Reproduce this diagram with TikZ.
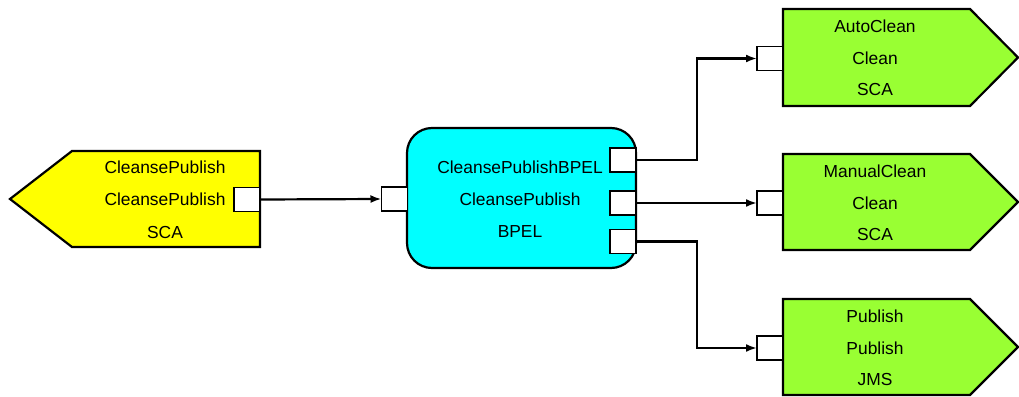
\documentclass[tikz,border=0pt]{standalone}
\usepackage{fontspec}
\setmainfont{Liberation Sans}
\usetikzlibrary{arrows.meta}
\definecolor{ylw}{RGB}{255,255,0}
\definecolor{cyn}{RGB}{0,255,255}
\definecolor{grn}{RGB}{153,255,51}
\begin{document}
\begin{tikzpicture}[x=1pt,y=-1pt,
  shapeline/.style={draw=black,line width=2.2pt,line join=miter},
  port/.style={draw=black,fill=white,line width=1.4pt,minimum width=26pt,minimum height=24pt,inner sep=0pt,outer sep=0pt},
  lbl/.style={font=\fontsize{17.4}{20}\selectfont,inner sep=0pt,anchor=center},
  conn/.style={draw=black,line width=2.2pt,-{Latex[length=11pt,width=8pt]}}
]
\useasboundingbox (0,0) rectangle (1019,396);
% shapes
\path[shapeline,fill=ylw] (72,151)--(260,151)--(260,247)--(72,247)--(10,199)--cycle;
\path[shapeline,fill=cyn,rounded corners=25pt] (407,128) rectangle (636,268);
\path[shapeline,fill=grn] (783,9)--(970,9)--(1018,57.5)--(970,106)--(783,106)--cycle;
\path[shapeline,fill=grn] (783,154)--(970,154)--(1018,202)--(970,250)--(783,250)--cycle;
\path[shapeline,fill=grn] (783,299)--(970,299)--(1018,347)--(970,395)--(783,395)--cycle;
% texts
\node[lbl] (y1) at (165,167) {CleansePublish};
\node[lbl] (y2) at (165,199) {CleansePublish};
\node[lbl] (y3) at (165,233) {SCA};
\node[lbl] (c1) at (520,167) {CleansePublishBPEL};
\node[lbl] (c2) at (520,199) {CleansePublish};
\node[lbl] (c3) at (520,232) {BPEL};
\node[lbl] (a1) at (875,26) {AutoClean};
\node[lbl] (a2) at (875,58) {Clean};
\node[lbl] (a3) at (875,90) {SCA};
\node[lbl] (m1) at (875,171) {ManualClean};
\node[lbl] (m2) at (875,203) {Clean};
\node[lbl] (m3) at (875,235) {SCA};
\node[lbl] (p1) at (875,316) {Publish};
\node[lbl] (p2) at (875,348) {Publish};
\node[lbl] (p3) at (875,380) {JMS};
% ports
\node[port] (yp) at (247,199.5) {};
\node[port] (cl) at (394.5,199) {};
\node[port] (r1) at (623,160) {};
\node[port] (r2) at (623,203) {};
\node[port] (r3) at (623,241.5) {};
\node[port] (g1) at (770,58.5) {};
\node[port] (g2) at (770,203) {};
\node[port] (g3) at (770,348) {};
\coordinate (bx) at (697,0);
% connectors
\draw[conn] (yp.east) -- (cl.west);
\draw[conn] (r1.east) -- (r1.east -| bx) |- (g1.west);
\draw[conn] (r2.east) -- (g2.west);
\draw[conn] (r3.east) -- (r3.east -| bx) |- (g3.west);
\end{tikzpicture}
\end{document}
